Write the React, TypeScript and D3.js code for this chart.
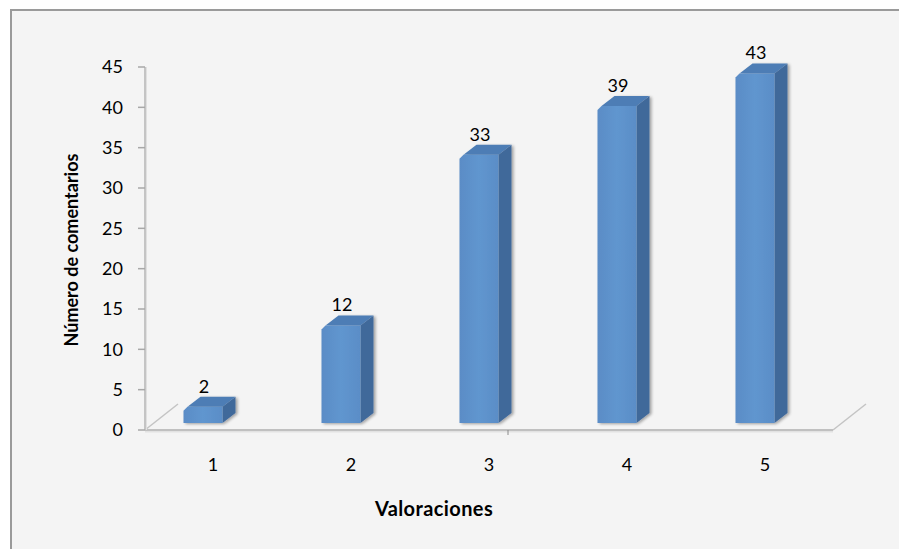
import React from "react";
import * as d3 from "d3";

const categories = ["1", "2", "3", "4", "5"];
const values = [2, 12, 33, 39, 43];
const yTicks = [0, 5, 10, 15, 20, 25, 30, 35, 40, 45];
const yTitle = "Número de comentarios";
const xTitle = "Valoraciones";

const W = 899;
const H = 549;
const FONT = "Lato, 'Open Sans', 'DejaVu Sans', sans-serif";

export default function App() {
  const axisX = 145;
  const floorY = 430;
  const floorEnd = 833;
  const floorDx = 33;
  const floorDy = -26;
  const yAxis = d3.scaleLinear().domain([0, 45]).range([floorY, 67]);
  const yBar = d3.scaleLinear().domain([0, 45]).range([423, 423 - 45 * 8.13]);
  const xBar = d3.scalePoint<string>().domain(categories).range([203, 755]);
  const barW = 39;
  const dx = 13;
  const dy = -10;

  return (
    <svg
      width={W}
      height={H}
      style={{ position: "absolute", left: 0, top: 0 }}
      fontFamily={FONT}
    >
      <defs>
        <linearGradient id="front" x1="0" x2="1" y1="0" y2="0">
          <stop offset="0" stopColor="#5a8cc6" />
          <stop offset="0.5" stopColor="#6096cf" />
          <stop offset="1" stopColor="#5a8dc7" />
        </linearGradient>
        <filter id="shadow" x="-20%" y="-20%" width="150%" height="150%">
          <feGaussianBlur in="SourceAlpha" stdDeviation="1.5" />
          <feOffset dx="2" dy="1" />
          <feComponentTransfer>
            <feFuncA type="linear" slope="0.35" />
          </feComponentTransfer>
          <feMerge>
            <feMergeNode />
            <feMergeNode in="SourceGraphic" />
          </feMerge>
        </filter>
      </defs>
      <rect x={0} y={0} width={W} height={H} fill="#ffffff" />
      <rect x={11} y={10} width={W + 20} height={H + 20} fill="#f4f4f4" stroke="#9a9a9a" strokeWidth={2} />

      {/* floor */}
      <line x1={axisX} y1={floorY} x2={axisX + floorDx} y2={floorY + floorDy} stroke="#c4c4c4" strokeWidth={1.5} />
      <line x1={floorEnd} y1={floorY} x2={floorEnd + floorDx} y2={floorY + floorDy} stroke="#c4c4c4" strokeWidth={1.5} />
      <line x1={axisX} y1={floorY + 1.5} x2={floorEnd} y2={floorY + 1.5} stroke="#e2e2e2" strokeWidth={2} />
      <line x1={axisX} y1={floorY} x2={floorEnd} y2={floorY} stroke="#c0c0c0" strokeWidth={2} />
      <line x1={508} y1={floorY} x2={508} y2={floorY + 5} stroke="#8a8a8a" strokeWidth={1} />

      {/* y axis */}
      <line x1={axisX + 1} y1={yAxis(45)} x2={axisX + 1} y2={floorY} stroke="#e0e0e0" strokeWidth={2} />
      <line x1={axisX} y1={yAxis(45)} x2={axisX} y2={floorY} stroke="#c4c4c4" strokeWidth={2} />
      {yTicks.map((t) => (
        <g key={t}>
          <line x1={axisX - 7} x2={axisX} y1={yAxis(t)} y2={yAxis(t)} stroke="#a8a8a8" strokeWidth={1.5} />
          <text x={axisX - 22} y={yAxis(t)} dy="0.36em" textAnchor="end" fontSize={18} fill="#000">
            {t}
          </text>
        </g>
      ))}

      {/* bars */}
      {categories.map((c, i) => {
        const cx = xBar(c)!;
        const x0 = cx - barW / 2;
        const x1 = cx + barW / 2;
        const yt = yBar(values[i]);
        const yb = yBar(0);
        const ch = 4;
        return (
          <g key={c} filter="url(#shadow)">
            <polygon
              points={`${x1},${yt} ${x1 + dx},${yt + dy} ${x1 + dx},${yb + dy} ${x1},${yb}`}
              fill="#41699a"
            />
            <polygon
              points={`${x0 + ch},${yt} ${x0 + ch + dx},${yt + dy} ${x1 + dx},${yt + dy} ${x1},${yt}`}
              fill="#4d7db5"
            />
            <polygon
              points={`${x0},${yt + ch} ${x0 + ch},${yt} ${x1},${yt} ${x1},${yb} ${x0},${yb}`}
              fill="url(#front)"
            />
          </g>
        );
      })}

      {/* value labels */}
      {categories.map((c, i) => (
        <text key={c} x={xBar(c)! + 1} y={yBar(values[i]) - 14} textAnchor="middle" fontSize={18} fill="#000">
          {values[i]}
        </text>
      ))}

      {/* category labels */}
      {categories.map((c) => (
        <text key={c} x={xBar(c)! + 10} y={465} dy="0.36em" textAnchor="middle" fontSize={18} fill="#000">
          {c}
        </text>
      ))}

      <text x={434} y={509} dy="0.36em" textAnchor="middle" fontSize={20} fontWeight="bold" letterSpacing={0.4} fill="#000">
        {xTitle}
      </text>
      <text
        transform={`translate(72,250) rotate(-90)`}
        dy="0.36em"
        textAnchor="middle"
        fontSize={18}
        fontWeight="bold"
        fill="#000"
      >
        {yTitle}
      </text>
    </svg>
  );
}
